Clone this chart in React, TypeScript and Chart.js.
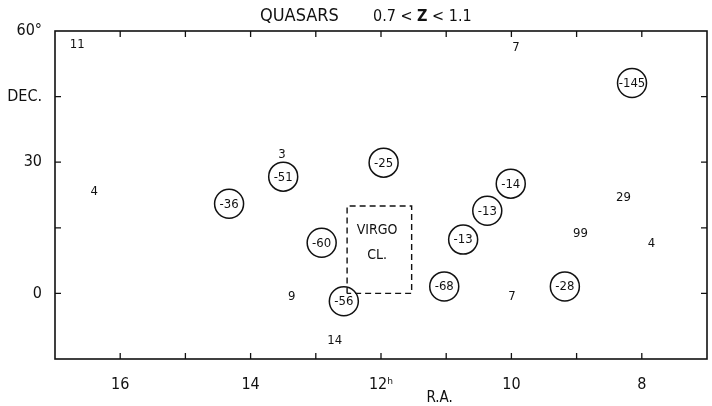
import React, { useEffect, useRef } from "react";
import { Chart, registerables } from "chart.js";

Chart.register(...registerables);

const FONT = "'Liberation Sans Narrow', 'DejaVu Sans Condensed', 'Roboto Condensed', Roboto, 'Noto Sans', sans-serif";

// R.A. (hours) and Dec. (degrees) of circled groups
const circledRA = [8.15, 13.5, 14.33, 12.91, 11.96, 10.01, 10.37, 10.74, 12.57, 11.03, 9.18];
const circledDec = [48.1, 26.7, 20.5, 11.6, 29.9, 25.1, 18.9, 12.3, -1.8, 1.6, 1.6];
const circledLabels = ["-145", "-51", "-36", "-60", "-25", "-14", "-13", "-13", "-56", "-68", "-28"];

// plain (uncircled) numbers
const plainRA = [16.66, 9.93, 13.52, 16.4, 8.28, 8.94, 7.85, 13.37, 12.71, 9.99];
const plainDec = [57.0, 56.3, 31.9, 23.3, 22.1, 13.7, 11.6, -0.7, -10.7, -0.7];
const plainLabels = ["11", "7", "3", "4", "29", "99", "4", "9", "14", "7"];

// Virgo cluster box
const virgoRA = [12.52, 12.52, 11.53, 11.53, 12.52];
const virgoDec = [0, 20, 20, 0, 0];
const virgoTextRA = [12.06, 12.06];
const virgoTextDec = [14.6, 8.7];
const virgoText = ["VIRGO", "CL."];

// axis tick labels
const raTickLabels: Record<number, string> = { 16: "16", 14: "14", 12: "12ʰ", 10: "10", 8: "8" };
const decTickLabels: Record<number, string> = { 60: "60°", 45: "DEC.", 30: "30", 0: "0" };

const labelPlugin = {
  id: "labelPlugin",
  afterDatasetsDraw(chart: any) {
    const ctx = chart.ctx;
    chart.data.datasets.forEach((ds: any, i: number) => {
      if (!ds.labels) return;
      const meta = chart.getDatasetMeta(i);
      ctx.save();
      ctx.fillStyle = "#111";
      ctx.font = `${ds.labelSize}px ${FONT}`;
      ctx.textAlign = "center";
      ctx.textBaseline = "middle";
      meta.data.forEach((el: any, j: number) => {
        ctx.fillText(ds.labels[j], el.x, el.y + 0.5);
      });
      ctx.restore();
    });
  },
};

const framePlugin = {
  id: "framePlugin",
  afterDraw(chart: any) {
    const { ctx, chartArea: a, scales } = chart;
    const x = scales.x;
    const y = scales.y;
    ctx.save();
    ctx.strokeStyle = "#111";
    ctx.lineWidth = 1.6;
    ctx.strokeRect(a.left, a.top, a.right - a.left, a.bottom - a.top);
    ctx.lineWidth = 1.3;
    const tl = 6;
    ctx.beginPath();
    x.ticks.forEach((t: any) => {
      const px = x.getPixelForValue(t.value);
      if (px <= a.left + 1 || px >= a.right - 1) return;
      ctx.moveTo(px, a.bottom);
      ctx.lineTo(px, a.bottom - tl);
      ctx.moveTo(px, a.top);
      ctx.lineTo(px, a.top + tl);
    });
    y.ticks.forEach((t: any) => {
      const py = y.getPixelForValue(t.value);
      if (py <= a.top + 1 || py >= a.bottom - 1) return;
      ctx.moveTo(a.left, py);
      ctx.lineTo(a.left + tl, py);
      ctx.moveTo(a.right, py);
      ctx.lineTo(a.right - tl, py);
    });
    ctx.stroke();

    // title
    ctx.fillStyle = "#111";
    ctx.textBaseline = "alphabetic";
    ctx.textAlign = "left";
    const base = a.top - 10;
    ctx.font = `18px ${FONT}`;
    ctx.fillText("QUASARS", 260, base);
    let cx = 373;
    const parts: [string, string][] = [
      ["0.7 < ", "normal"],
      ["Z", "bold"],
      [" < 1.1", "normal"],
    ];
    parts.forEach(([s, w]) => {
      ctx.font = `${w} 16px ${FONT}`;
      ctx.fillText(s, cx, base);
      cx += ctx.measureText(s).width;
    });

    // x axis title
    ctx.font = `15px ${FONT}`;
    ctx.textAlign = "center";
    ctx.fillText("R.A.", x.getPixelForValue(11.1), 402);
    ctx.restore();
  },
};

const noPad = (s: any) => {
  s.paddingLeft = 0;
  s.paddingRight = 0;
  s.paddingTop = 0;
  s.paddingBottom = 0;
};

export default function App() {
  const ref = useRef<HTMLCanvasElement>(null);
  useEffect(() => {
    if (!ref.current) return;
    const chart = new Chart(ref.current, {
      type: "scatter",
      data: {
        datasets: [
          {
            type: "line",
            data: virgoRA.map((v, i) => ({ x: v, y: virgoDec[i] })),
            showLine: true,
            borderColor: "#111",
            borderWidth: 1.4,
            borderDash: [6, 4],
            pointRadius: 0,
            fill: false,
            tension: 0,
          } as any,
          {
            data: circledRA.map((v, i) => ({ x: v, y: circledDec[i] })),
            pointRadius: 14.5,
            pointBorderWidth: 1.5,
            pointBorderColor: "#111",
            pointBackgroundColor: "#fff",
            labels: circledLabels,
            labelSize: 13,
          } as any,
          {
            data: plainRA.map((v, i) => ({ x: v, y: plainDec[i] })),
            pointRadius: 0,
            labels: plainLabels,
            labelSize: 13,
          } as any,
          {
            data: virgoTextRA.map((v, i) => ({ x: v, y: virgoTextDec[i] })),
            pointRadius: 0,
            labels: virgoText,
            labelSize: 14,
          } as any,
        ],
      },
      options: {
        animation: false,
        responsive: false,
        layout: { autoPadding: false, padding: { top: 31, right: 5, left: 0, bottom: 0 } },
        plugins: {
          legend: { display: false },
          tooltip: { enabled: false },
          title: { display: false },
        },
        scales: {
          x: {
            type: "linear",
            reverse: true,
            min: 7,
            max: 17,
            grid: { display: false },
            border: { display: false },
            ticks: {
              stepSize: 1,
              autoSkip: false,
              maxRotation: 0,
              padding: 8,
              color: "#111",
              font: { family: FONT, size: 16 },
              callback: (v: any) => raTickLabels[v] ?? "",
            },
            afterFit: (s: any) => {
              s.height = 47;
              noPad(s);
            },
          },
          y: {
            type: "linear",
            min: -15,
            max: 60,
            grid: { display: false },
            border: { display: false },
            ticks: {
              stepSize: 15,
              autoSkip: false,
              padding: 5,
              color: "#111",
              font: { family: FONT, size: 16 },
              callback: (v: any) => decTickLabels[v] ?? "",
            },
            afterFit: (s: any) => {
              s.width = 55;
              noPad(s);
            },
          },
        },
      },
      plugins: [labelPlugin, framePlugin],
    } as any);
    return () => chart.destroy();
  }, []);
  return (
    <div style={{ position: "absolute", left: 0, top: 0, width: 712, height: 406, background: "#fff" }}>
      <canvas ref={ref} width={712} height={406} style={{ display: "block" }} />
    </div>
  );
}
